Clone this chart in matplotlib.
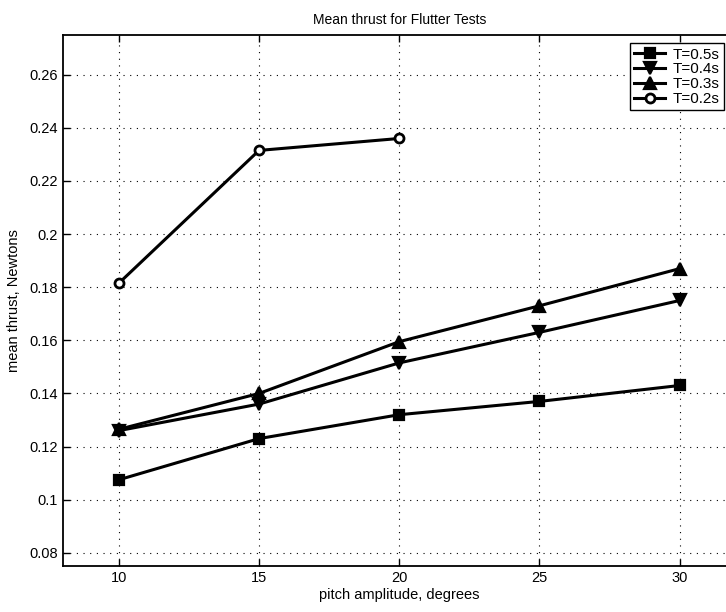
import numpy as np
import matplotlib
matplotlib.use("Agg")
import matplotlib.pyplot as plt

plt.rcParams['font.family'] = ['Liberation Sans', 'DejaVu Sans']

# pitch amplitude (degrees) and mean thrust (N)
pitch = [10, 15, 20, 25, 30]
pitch_short = [10, 15, 20]
thrust_t05 = [0.1075, 0.123, 0.132, 0.137, 0.143]
thrust_t04 = [0.126, 0.136, 0.1515, 0.163, 0.175]
thrust_t03 = [0.1265, 0.140, 0.1595, 0.173, 0.187]
thrust_t02 = [0.1815, 0.2315, 0.236]

x_ticks = [10, 15, 20, 25, 30]
y_ticks = [0.08, 0.1, 0.12, 0.14, 0.16, 0.18, 0.2, 0.22, 0.24, 0.26]
y_tick_labels = ['0.08', '0.1', '0.12', '0.14', '0.16', '0.18', '0.2', '0.22', '0.24', '0.26']

fig = plt.figure(figsize=(7.26, 6.12), dpi=100)
# right edge of the axes runs past the figure, as in the scanned original
ax = fig.add_axes([0.0864, 0.075, 0.927, 0.868])

lw = 2.2
mew = 1.6
ax.plot(pitch, thrust_t05, color='black', linewidth=lw, marker='s', markersize=6.5,
        markerfacecolor='black', markeredgewidth=mew, label='T=0.5s')
ax.plot(pitch, thrust_t04, color='black', linewidth=lw, marker='v', markersize=8,
        markerfacecolor='black', markeredgewidth=mew, label='T=0.4s')
ax.plot(pitch, thrust_t03, color='black', linewidth=lw, marker='^', markersize=8,
        markerfacecolor='black', markeredgewidth=mew, label='T=0.3s')
ax.plot(pitch_short, thrust_t02, color='black', linewidth=lw, marker='o', markersize=6.5,
        markerfacecolor='white', markeredgewidth=2, label='T=0.2s')

ax.set_xlim(8, 32)
ax.set_ylim(0.075, 0.275)
ax.set_xticks(x_ticks)
ax.set_yticks(y_ticks)
ax.set_yticklabels(y_tick_labels)
ax.tick_params(direction='in', length=5, width=1, labelsize=10.5, colors='black',
               top=True, right=True)
ax.grid(True, linestyle=(0, (1, 5)), color='black', linewidth=0.8)
for s in ax.spines.values():
    s.set_linewidth(1.3)

ax.set_title('Mean thrust for Flutter Tests', fontsize=10, pad=8)
ax.set_xlabel('pitch amplitude, degrees', fontsize=10.5, labelpad=2)
ax.set_ylabel('mean thrust, Newtons', fontsize=10.5, labelpad=6)

leg = ax.legend(loc='upper right', bbox_to_anchor=(724 / 726, 1 - 43 / 612),
                bbox_transform=fig.transFigure, fontsize=11, frameon=True,
                fancybox=False, edgecolor='black', framealpha=1,
                borderpad=0.3, labelspacing=0.05, handlelength=2.0, handletextpad=0.5,
                borderaxespad=0)
leg.get_frame().set_linewidth(1.0)

fig.savefig('out.png', dpi=100)
